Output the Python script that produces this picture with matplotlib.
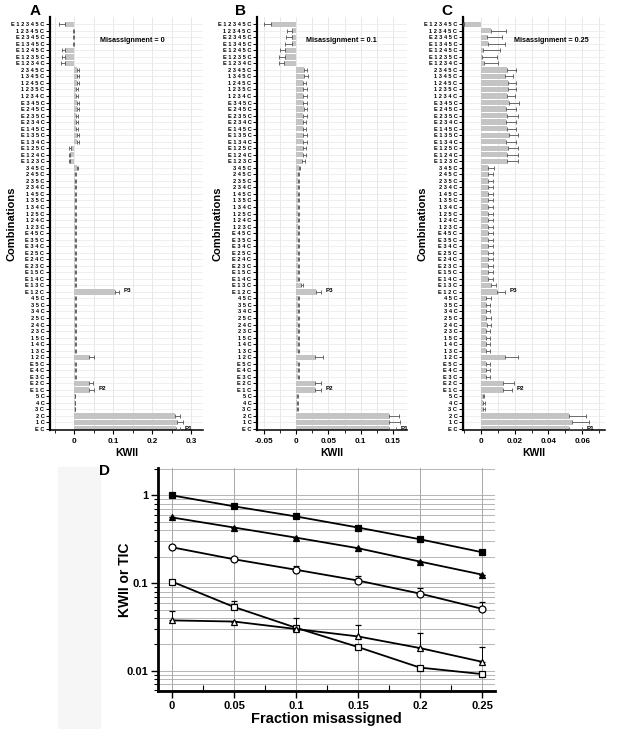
import numpy as np
import matplotlib
matplotlib.use('Agg')
from matplotlib import pyplot as plt
from matplotlib.patches import Rectangle

plt.rcParams['font.family'] = ['Liberation Sans', 'DejaVu Sans']
plt.rcParams['font.weight'] = 'bold'

# combinations, top to bottom
labels = ['E 1 2 3 4 5 C', '1 2 3 4 5 C', 'E 2 3 4 5 C', 'E 1 3 4 5 C', 'E 1 2 4 5 C',
          'E 1 2 3 5 C', 'E 1 2 3 4 C', '2 3 4 5 C', '1 3 4 5 C', '1 2 4 5 C',
          '1 2 3 5 C', '1 2 3 4 C', 'E 3 4 5 C', 'E 2 4 5 C', 'E 2 3 5 C',
          'E 2 3 4 C', 'E 1 4 5 C', 'E 1 3 5 C', 'E 1 3 4 C', 'E 1 2 5 C',
          'E 1 2 4 C', 'E 1 2 3 C', '3 4 5 C', '2 4 5 C', '2 3 5 C', '2 3 4 C',
          '1 4 5 C', '1 3 5 C', '1 3 4 C', '1 2 5 C', '1 2 4 C', '1 2 3 C',
          'E 4 5 C', 'E 3 5 C', 'E 3 4 C', 'E 2 5 C', 'E 2 4 C', 'E 2 3 C',
          'E 1 5 C', 'E 1 4 C', 'E 1 3 C', 'E 1 2 C', '4 5 C', '3 5 C', '3 4 C',
          '2 5 C', '2 4 C', '2 3 C', '1 5 C', '1 4 C', '1 3 C', '1 2 C',
          'E 5 C', 'E 4 C', 'E 3 C', 'E 2 C', 'E 1 C', '5 C', '4 C', '3 C',
          '2 C', '1 C', 'E C']

# panel A, misassignment = 0
kwii_a = [-0.023, -0.001, -0.001, -0.001, -0.023, -0.023, -0.023,
          0.007, 0.006, 0.006, 0.005, 0.005, 0.007, 0.006, 0.005, 0.005, 0.005,
          0.006, 0.007, -0.009, -0.010, -0.010,
          0.007, 0.002, 0.002, 0.002, 0.002, 0.002, 0.002, 0.002, 0.002, 0.002,
          0.002, 0.002, 0.002, 0.002, 0.002, 0.002, 0.002, 0.002, 0.002, 0.105,
          0.002, 0.002, 0.002, 0.002, 0.002, 0.002, 0.002, 0.002, 0.002, 0.039,
          0.002, 0.002, 0.002, 0.038, 0.038,
          0.001, 0.001, 0.001, 0.259, 0.263, 0.261]
err_a = [0.015, 0.003, 0.003, 0.003, 0.009, 0.008, 0.010,
         0.006, 0.007, 0.006, 0.006, 0.006, 0.006, 0.006, 0.006, 0.006, 0.006,
         0.006, 0.006, 0.004, 0.004, 0.004,
         0.004, 0.003, 0.003, 0.003, 0.003, 0.003, 0.003, 0.003, 0.003, 0.003,
         0.003, 0.003, 0.003, 0.003, 0.003, 0.003, 0.003, 0.003, 0.003, 0.009,
         0.002, 0.002, 0.002, 0.002, 0.002, 0.002, 0.002, 0.002, 0.002, 0.013,
         0.002, 0.002, 0.002, 0.010, 0.012,
         0.001, 0.001, 0.001, 0.013, 0.016, 0.010]

# panel B, misassignment = 0.1
kwii_b = [-0.040, -0.006, -0.006, -0.007, -0.018, -0.018, -0.019,
          0.012, 0.0115, 0.0105, 0.0105, 0.010, 0.011, 0.0115, 0.011, 0.0105,
          0.0105, 0.011, 0.011, 0.010, 0.010, 0.009,
          0.004, 0.003, 0.003, 0.003, 0.003, 0.003, 0.003, 0.003, 0.003, 0.003,
          0.003, 0.003, 0.003, 0.003, 0.003, 0.003, 0.003, 0.003, 0.007, 0.031,
          0.0026, 0.0026, 0.0026, 0.0026, 0.0026, 0.0026, 0.0026, 0.0026, 0.0026,
          0.029, 0.0026, 0.0026, 0.0026, 0.029, 0.029,
          0.001, 0.001, 0.0015, 0.1435, 0.144, 0.1435]
err_b = [0.010, 0.008, 0.010, 0.010, 0.008, 0.009, 0.008,
         0.004, 0.006, 0.005, 0.006, 0.006, 0.005, 0.005, 0.005, 0.005,
         0.005, 0.005, 0.005, 0.005, 0.005, 0.005,
         0.002, 0.002, 0.002, 0.002, 0.002, 0.002, 0.002, 0.002, 0.002, 0.002,
         0.002, 0.002, 0.002, 0.002, 0.002, 0.002, 0.002, 0.002, 0.004, 0.008,
         0.002, 0.002, 0.002, 0.002, 0.002, 0.002, 0.002, 0.002, 0.002,
         0.012, 0.002, 0.002, 0.002, 0.0095, 0.0095,
         0.001, 0.001, 0.001, 0.016, 0.017, 0.012]

# panel C, misassignment = 0.25
kwii_c = [-0.0098, 0.0059, 0.0035, 0.0045, 0.0014, 0.0006, 0.0018,
          0.0157, 0.0143, 0.0159, 0.0159, 0.0157, 0.0167, 0.0150, 0.0157, 0.0150,
          0.0152, 0.0165, 0.0148, 0.0159, 0.0157, 0.0157,
          0.0045, 0.004, 0.004, 0.004, 0.004, 0.004, 0.004, 0.004, 0.004, 0.004,
          0.004, 0.004, 0.004, 0.004, 0.004, 0.004, 0.004, 0.004, 0.006, 0.0094,
          0.0033, 0.0031, 0.0031, 0.0033, 0.0037, 0.0031, 0.0031, 0.0028, 0.0028,
          0.0145, 0.0031, 0.0031, 0.0031, 0.013, 0.013,
          0.001, 0.0015, 0.0013, 0.052, 0.054, 0.052]
err_c = [0.001, 0.009, 0.009, 0.010, 0.010, 0.009, 0.0085,
         0.0053, 0.005, 0.005, 0.0047, 0.0045, 0.006, 0.006, 0.006, 0.0055,
         0.0057, 0.0057, 0.006, 0.006, 0.006, 0.006,
         0.003, 0.003, 0.003, 0.003, 0.003, 0.003, 0.003, 0.003, 0.003, 0.003,
         0.003, 0.003, 0.003, 0.003, 0.003, 0.003, 0.003, 0.003, 0.003, 0.005,
         0.0025, 0.0025, 0.0025, 0.0025, 0.0025, 0.0025, 0.0025, 0.0025, 0.0025,
         0.0075, 0.0022, 0.0022, 0.0022, 0.0065, 0.0055,
         0.001, 0.001, 0.001, 0.010, 0.010, 0.008]

# panel D
frac = [0, 0.05, 0.1, 0.15, 0.2, 0.25]
filled_sq = [1.0, 0.75, 0.575, 0.43, 0.316, 0.225]
filled_sq_err = [0.0, 0.0, 0.0, 0.0, 0.0, 0.0]
filled_tri = [0.56, 0.43, 0.33, 0.25, 0.176, 0.125]
filled_tri_err = [0.0, 0.0, 0.0, 0.0, 0.0, 0.0]
open_circ = [0.256, 0.187, 0.142, 0.107, 0.076, 0.051]
open_circ_err = [0.0, 0.008, 0.013, 0.014, 0.012, 0.010]
open_sq = [0.104, 0.0535, 0.031, 0.0187, 0.0109, 0.0092]
open_sq_err = [0.0, 0.0085, 0.009, 0.0, 0.0, 0.0]
open_tri = [0.0376, 0.0365, 0.030, 0.0247, 0.0182, 0.0127]
open_tri_err = [0.011, 0.0, 0.0, 0.0083, 0.0088, 0.006]

W, H = 619, 729
fig = plt.figure(figsize=(W / 100, H / 100), dpi=100)


def fbox(l, t, r, b):
    return [l / W, 1 - b / H, (r - l) / W, (b - t) / H]


def bar_panel(box, vals, errs, xlim, major, minor, ticklabs, note, note_x,
              peaks, ylab_x):
    ax = fig.add_axes(fbox(*box))
    y = np.arange(len(labels))
    vals = np.array(vals)
    errs = np.array(errs)
    lo = np.where(vals < 0, errs, 0)
    hi = np.where(vals >= 0, errs, 0)
    ax.barh(y, vals, height=0.82, color='#c4c4c4', zorder=2)
    ax.errorbar(vals, y, xerr=[lo, hi], fmt='none', ecolor='#555555',
                elinewidth=0.6, capsize=1.3, capthick=0.6, zorder=3)
    ax.set_xlim(*xlim)
    ax.set_ylim(62.15, -1.1)
    ax.set_yticks(y)
    ax.set_yticklabels(labels, fontsize=4.1, fontweight='bold')
    ax.set_xticks(major)
    ax.set_xticklabels(ticklabs, fontsize=5.8, fontweight='bold')
    ax.set_xticks(minor, minor=True)
    ax.grid(True, which='both', axis='x', color='#e4e4e4', lw=0.6, zorder=0)
    ax.grid(True, which='major', axis='y', color='#ececec', lw=0.6, zorder=0)
    for s in ['top', 'right']:
        ax.spines[s].set_visible(False)
    ax.spines['left'].set_linewidth(1.6)
    ax.spines['bottom'].set_linewidth(1.1)
    ax.tick_params(axis='y', length=3, width=0.7, pad=1)
    ax.tick_params(axis='x', which='major', length=3, width=0.8, pad=3)
    ax.tick_params(axis='x', which='minor', length=2, width=0.6)
    ax.set_xlabel('KWII', fontsize=7.5, fontweight='bold', labelpad=2)
    ax.set_ylabel('Combinations', fontsize=8, fontweight='bold')
    ax.yaxis.set_label_coords(ylab_x, 0.5)
    ax.text(note_x, 0.944, note, transform=ax.transAxes, fontsize=5.2,
            fontweight='bold', va='center')
    span = xlim[1] - xlim[0]
    for name, i in peaks:
        ax.text(vals[i] + errs[i] + span * 0.03, i - 0.15, name, fontsize=4.5,
                fontweight='bold', va='center', zorder=4)
    return ax


peaks = [('P1', 62), ('P2', 56), ('P3', 41)]

bar_panel((50, 17, 203, 430), kwii_a, err_a, (-0.062, 0.33),
          [0, 0.1, 0.2, 0.3], np.arange(-0.05, 0.33, 0.05),
          ['0', '0.1', '0.2', '0.3'], 'Misassignment = 0', 0.33, peaks, -0.22)
bar_panel((257, 17, 407, 430), kwii_b, err_b, (-0.061, 0.172),
          [-0.05, 0, 0.05, 0.1, 0.15], np.arange(-0.05, 0.17, 0.025),
          ['-0.05', '0', '0.05', '0.1', '0.15'], 'Misassignment = 0.1', 0.33,
          peaks, -0.23)
bar_panel((463, 17, 605, 430), kwii_c, err_c, (-0.0106, 0.0735),
          [0, 0.02, 0.04, 0.06], np.arange(-0.01, 0.072, 0.01),
          ['0', '0.02', '0.04', '0.06'], 'Misassignment = 0.25', 0.36, peaks,
          -0.25)

# panel letters
for letter, px, py in [('A', 35, 11), ('B', 240, 11), ('C', 447, 11),
                       ('D', 105, 471)]:
    fig.text(px / W, 1 - py / H, letter, fontsize=11, fontweight='bold',
             ha='center', va='center')

# faint shaded strip left of panel D
fig.patches.append(Rectangle((58 / W, 0), 42 / W, 262 / H,
                             transform=fig.transFigure, color='#f6f6f6',
                             zorder=0))

axd = fig.add_axes(fbox(158, 468, 495, 691))
series = [(filled_sq, filled_sq_err, 's', 'black'),
          (filled_tri, filled_tri_err, '^', 'black'),
          (open_circ, open_circ_err, 'o', 'white'),
          (open_sq, open_sq_err, 's', 'white'),
          (open_tri, open_tri_err, '^', 'white')]
for vals, errs, mk, fc in series:
    axd.errorbar(frac, vals, yerr=[np.zeros(len(errs)), errs], color='black',
                 lw=1.3, marker=mk, markersize=5, markerfacecolor=fc,
                 markeredgecolor='black', markeredgewidth=0.9, ecolor='black',
                 elinewidth=0.7, capsize=2, capthick=0.7, zorder=3)
axd.set_yscale('log')
axd.set_ylim(0.0059, 2.05)
axd.set_xlim(-0.0113, 0.2605)
axd.set_xticks(frac)
axd.set_xticklabels(['0', '0.05', '0.1', '0.15', '0.2', '0.25'], fontsize=8,
                    fontweight='bold')
axd.set_xticks(np.arange(0.025, 0.26, 0.05), minor=True)
axd.set_yticks([0.01, 0.1, 1])
axd.set_yticklabels(['0.01', '0.1', '1'], fontsize=8, fontweight='bold')
axd.grid(True, which='major', axis='x', color='#999999', lw=0.6, zorder=0)
axd.grid(True, which='both', axis='y', color='#aaaaaa', lw=0.6, zorder=0)
for s in ['top', 'right']:
    axd.spines[s].set_visible(False)
axd.spines['left'].set_linewidth(2)
axd.spines['bottom'].set_linewidth(2)
axd.tick_params(axis='both', which='major', length=5, width=1, pad=2)
axd.tick_params(axis='y', which='minor', length=3, width=0.8)
axd.tick_params(axis='x', which='minor', length=4, width=0.8, direction='in')
axd.set_xlabel('Fraction misassigned', fontsize=10.5, fontweight='bold',
               labelpad=1)
axd.set_ylabel('KWII or TIC', fontsize=10, fontweight='bold')
axd.yaxis.set_label_coords(-0.077, 0.5)

fig.savefig('out.png', dpi=100)
